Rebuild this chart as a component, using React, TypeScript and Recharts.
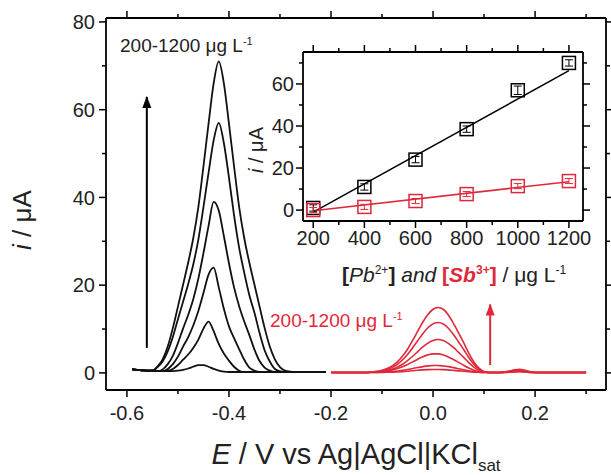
import { ComposedChart, ErrorBar, Line, Scatter, XAxis, YAxis } from "recharts";

const FONT = "'Liberation Sans', Arial, Helvetica, sans-serif";
const RED = "#e0283a";

// potential grids (V vs Ag|AgCl|KCl sat)
const pbPotential = [
  -0.59, -0.58, -0.57, -0.56, -0.55, -0.54, -0.53, -0.52, -0.51, -0.5, -0.49, -0.48, -0.47,
  -0.46, -0.45, -0.44, -0.43, -0.42, -0.41, -0.4, -0.39, -0.38, -0.37, -0.36, -0.35, -0.34,
  -0.33, -0.32, -0.31, -0.3, -0.29, -0.28, -0.27, -0.26, -0.25, -0.24, -0.23, -0.22, -0.21,
];
const sbPotential = [
  -0.2, -0.19, -0.18, -0.17, -0.16, -0.15, -0.14, -0.13, -0.12, -0.11, -0.1, -0.09, -0.08,
  -0.07, -0.06, -0.05, -0.04, -0.03, -0.02, -0.01, 0, 0.01, 0.02, 0.03, 0.04, 0.05, 0.06,
  0.07, 0.08, 0.09, 0.1, 0.11, 0.12, 0.13, 0.14, 0.15, 0.16, 0.17, 0.18, 0.19, 0.2, 0.21,
  0.22, 0.23, 0.24, 0.25, 0.26, 0.27, 0.28, 0.29, 0.3,
];

// Pb2+ stripping peaks, 200 -> 1200 ug/L
const pb200 = [0.8, 0.7, 0.6, 0.5, 0.5, 0.4, 0.4, 0.4, 0.4, 0.5, 0.7, 1.0, 1.4, 1.75, 1.75, 1.4, 0.9, 0.5, 0.3, 0.2, 0.2, 0.2, 0.2, 0.2, 0.2, 0.2, 0.2, 0.2, 0.2, 0.2, 0.2, 0.2, 0.2, 0.2, 0.2, 0.2, 0.2, 0.2, 0.2];
const pb400 = [0.8, 0.7, 0.6, 0.5, 0.5, 0.4, 0.4, 0.5, 0.9, 1.8, 3.0, 4.2, 5.7, 7.6, 10.1, 11.7, 9.5, 6.6, 4.4, 2.8, 1.4, 0.5, 0.2, 0.2, 0.2, 0.2, 0.2, 0.2, 0.2, 0.2, 0.2, 0.2, 0.2, 0.2, 0.2, 0.2, 0.2, 0.2, 0.2];
const pb600 = [0.8, 0.7, 0.6, 0.5, 0.5, 0.4, 0.4, 0.9, 2.0, 3.7, 6.0, 8.1, 10.8, 14.1, 18.2, 22.4, 24.0, 19.5, 14.6, 10.6, 7.9, 5.4, 3.0, 1.2, 0.5, 0.2, 0.2, 0.2, 0.2, 0.2, 0.2, 0.2, 0.2, 0.2, 0.2, 0.2, 0.2, 0.2, 0.2];
const pb800 = [0.8, 0.7, 0.6, 0.5, 0.5, 0.4, 0.8, 2.0, 3.9, 6.8, 10.1, 13.2, 16.8, 21.5, 27.3, 33.5, 39.0, 37.0, 31.2, 25.0, 19.5, 15.2, 11.7, 8.6, 5.3, 2.7, 1.2, 0.5, 0.2, 0.2, 0.2, 0.2, 0.2, 0.2, 0.2, 0.2, 0.2, 0.2, 0.2];
const pb1000 = [0.8, 0.7, 0.6, 0.5, 0.5, 1.3, 2.6, 4.9, 8.2, 12.2, 16.2, 20.2, 24.7, 30.4, 37.8, 45.6, 53.0, 57.0, 52.4, 44.5, 35.9, 28.5, 22.8, 17.7, 13.7, 9.1, 5.1, 2.6, 0.9, 0.4, 0.2, 0.2, 0.2, 0.2, 0.2, 0.2, 0.2, 0.2, 0.2];
const pb1200 = [0.8, 0.7, 0.6, 0.5, 0.5, 1.5, 3.1, 6.0, 10.2, 15.1, 20.1, 25.1, 30.7, 37.8, 47.1, 56.8, 66.0, 71.0, 66.0, 56.8, 47.1, 37.8, 30.7, 25.1, 20.1, 15.1, 10.2, 6.0, 3.1, 1.3, 0.5, 0.3, 0.2, 0.2, 0.2, 0.2, 0.2, 0.2, 0.2];

// Sb3+ stripping peaks, 200 -> 1200 ug/L
const sb200 = [0.1, 0.1, 0.1, 0.1, 0.1, 0.1, 0.1, 0.1, 0.1, 0.1, 0.12, 0.14, 0.17, 0.21, 0.27, 0.37, 0.49, 0.59, 0.68, 0.75, 0.78, 0.78, 0.75, 0.68, 0.58, 0.47, 0.36, 0.26, 0.18, 0.13, 0.1, 0.1, 0.1, 0.1, 0.1, 0.15, 0.22, 0.25, 0.2, 0.12, 0.1, 0.1, 0.1, 0.1, 0.1, 0.1, 0.1, 0.1, 0.1, 0.1, 0.1];
const sb400 = [0.1, 0.1, 0.1, 0.1, 0.1, 0.1, 0.1, 0.1, 0.1, 0.12, 0.17, 0.23, 0.31, 0.43, 0.59, 0.78, 1.0, 1.23, 1.43, 1.59, 1.68, 1.68, 1.58, 1.42, 1.2, 0.96, 0.71, 0.47, 0.28, 0.16, 0.1, 0.1, 0.1, 0.1, 0.12, 0.2, 0.3, 0.35, 0.25, 0.12, 0.1, 0.1, 0.1, 0.1, 0.1, 0.1, 0.1, 0.1, 0.1, 0.1, 0.1];
const sb600 = [0.1, 0.1, 0.1, 0.1, 0.1, 0.1, 0.1, 0.1, 0.15, 0.2, 0.3, 0.44, 0.67, 0.99, 1.41, 1.93, 2.52, 3.13, 3.69, 4.11, 4.34, 4.34, 4.09, 3.64, 3.05, 2.4, 1.73, 1.1, 0.59, 0.27, 0.13, 0.1, 0.1, 0.1, 0.15, 0.25, 0.4, 0.5, 0.35, 0.15, 0.1, 0.1, 0.1, 0.1, 0.1, 0.1, 0.1, 0.1, 0.1, 0.1, 0.1];
const sb800 = [0.1, 0.1, 0.1, 0.1, 0.1, 0.1, 0.1, 0.1, 0.15, 0.23, 0.34, 0.54, 0.86, 1.32, 1.97, 2.8, 3.79, 4.86, 5.91, 6.8, 7.39, 7.6, 7.38, 6.74, 5.8, 4.68, 3.55, 2.35, 1.34, 0.59, 0.21, 0.1, 0.1, 0.1, 0.15, 0.3, 0.5, 0.6, 0.45, 0.2, 0.1, 0.1, 0.1, 0.1, 0.1, 0.1, 0.1, 0.1, 0.1, 0.1, 0.1];
const sb1000 = [0.1, 0.1, 0.1, 0.1, 0.1, 0.1, 0.1, 0.1, 0.18, 0.3, 0.46, 0.77, 1.25, 1.96, 2.94, 4.2, 5.71, 7.34, 8.94, 10.28, 11.18, 11.5, 11.16, 10.19, 8.76, 7.05, 5.34, 3.52, 1.98, 0.84, 0.27, 0.1, 0.1, 0.1, 0.2, 0.35, 0.6, 0.7, 0.5, 0.25, 0.1, 0.1, 0.1, 0.1, 0.1, 0.1, 0.1, 0.1, 0.1, 0.1, 0.1];
const sb1200 = [0.1, 0.1, 0.1, 0.1, 0.1, 0.1, 0.1, 0.1, 0.2, 0.35, 0.57, 1.0, 1.6, 2.5, 3.8, 5.4, 7.4, 9.5, 11.6, 13.3, 14.5, 14.9, 14.5, 13.2, 11.3, 9.1, 6.9, 4.5, 2.5, 1.1, 0.3, 0.1, 0.1, 0.1, 0.2, 0.4, 0.7, 0.8, 0.6, 0.3, 0.1, 0.1, 0.1, 0.1, 0.1, 0.1, 0.1, 0.1, 0.1, 0.1, 0.1];

// arrows (potential, start current, end current)
const pbArrow = { x: -0.561, from: 5.7, to: 62.9 };
const sbArrow = { x: 0.112, from: 1.8, to: 15.6 };

// calibration inset
const concentrations = [200, 400, 600, 800, 1000, 1200];
const pbPeak = [1, 11, 24, 38.5, 57, 70];
const pbError = [1.5, 1.5, 1.5, 1.5, 2, 1.5];
const sbPeak = [0, 1.5, 4.3, 7.6, 11.4, 13.8];
const sbError = [1.2, 1.2, 1.2, 1.2, 1.2, 1.2];
const fitEnds = [200, 1200];
const pbFit = [-1, 66.3];
const sbFit = [-0.3, 13.5];

const mainXDomain = [-0.641, 0.339];
const mainYDomain = [-3.9, 80.9];
const insetXDomain = [160, 1255];
const insetYDomain = [-5.2, 75.2];
const mainXTicks = [-0.6, -0.5, -0.4, -0.3, -0.2, -0.1, 0, 0.1, 0.2, 0.3];
const mainYTicks = [0, 10, 20, 30, 40, 50, 60, 70, 80];
const insetXTicks = [200, 300, 400, 500, 600, 700, 800, 900, 1000, 1100, 1200];
const insetYTicks = [0, 10, 20, 30, 40, 50, 60, 70];

const pbCurves = [pb200, pb400, pb600, pb800, pb1000, pb1200];
const sbCurves = [sb200, sb400, sb600, sb800, sb1000, sb1200];

const toPoints = (xs: number[], ys: number[]) => xs.map((x, i) => ({ x, y: ys[i] }));

type Side = "bottom" | "top" | "left" | "right";

function axisTick(side: Side, major: (v: number) => boolean, fmt: ((v: number) => string) | null, gap: number, size: number) {
  return (props: any) => {
    const { x, y, payload, index } = props;
    const v = payload.value as number;
    const big = major(v);
    const len = big ? 7 : 4;
    const dx = side === "left" ? -len : side === "right" ? len : 0;
    const dy = side === "bottom" ? len : side === "top" ? -len : 0;
    let text = null;
    if (fmt && big && side === "bottom") {
      text = (
        <text x={x} y={y + gap} textAnchor="middle" fontSize={size} fontFamily={FONT} fill="#222">
          {fmt(v)}
        </text>
      );
    }
    if (fmt && big && side === "left") {
      text = (
        <text x={x - gap} y={y} dy="0.36em" textAnchor="end" fontSize={size} fontFamily={FONT} fill="#222">
          {fmt(v)}
        </text>
      );
    }
    return (
      <g key={`t${side}${index}`}>
        <line x1={x} y1={y} x2={x + dx} y2={y + dy} stroke="#000" strokeWidth={1.5} />
        {text}
      </g>
    );
  };
}

function arrowHead(color: string) {
  return (p: any) =>
    p.index === 1 ? (
      <path key={`h${p.index}`} d={`M${p.cx},${p.cy - 1} l-4.5,12 l9,0 z`} fill={color} />
    ) : (
      <g key={`h${p.index}`} />
    );
}

function squareMark(color: string) {
  return (p: any) => (
    <rect x={p.cx - 6.5} y={p.cy - 6.5} width={13} height={13} fill="none" stroke={color} strokeWidth={1.5} />
  );
}

const frame = { stroke: "#000", strokeWidth: 1.8 };
const xMajor = (v: number) => Math.round(v * 10) % 2 === 0;
const yMajor = (v: number) => v % 20 === 0;
const cMajor = (v: number) => v % 200 === 0;

// four framed axes: labelled bottom/left, mirrored tick-only top/right
function frameAxes(
  xDomain: number[],
  yDomain: number[],
  xTicks: number[],
  yTicks: number[],
  xIsMajor: (v: number) => boolean,
  xFmt: (v: number) => string,
  xGap: number,
  xHeight: number,
  yWidth: number,
  yGap: number,
) {
  const common = { type: "number" as const, allowDataOverflow: true, interval: 0, tickSize: 0, tickMargin: 0, tickLine: false, axisLine: frame };
  return [
    <XAxis key="xb" {...common} dataKey="x" domain={xDomain} ticks={xTicks} height={xHeight} tick={axisTick("bottom", xIsMajor, xFmt, xGap, 20)} />,
    <XAxis key="xt" {...common} xAxisId="top" orientation="top" dataKey="x" domain={xDomain} ticks={xTicks} height={1} tick={axisTick("top", xIsMajor, null, 0, 0)} />,
    <YAxis key="yl" {...common} dataKey="y" domain={yDomain} ticks={yTicks} width={yWidth} tick={axisTick("left", yMajor, (v) => String(v), yGap, 20)} />,
    <YAxis key="yr" {...common} yAxisId="right" orientation="right" dataKey="y" domain={yDomain} ticks={yTicks} width={1} tick={axisTick("right", yMajor, null, 0, 0)} />,
  ];
}

function Inset() {
  const pbPts = concentrations.map((x, i) => ({ x, y: pbPeak[i], err: pbError[i] }));
  const sbPts = concentrations.map((x, i) => ({ x, y: sbPeak[i], err: sbError[i] }));
  return (
    <ComposedChart width={345} height={249} margin={{ top: 9, right: 9, left: 0, bottom: 0 }}>
      {frameAxes(insetXDomain, insetYDomain, insetXTicks, insetYTicks, cMajor, (v) => String(v), 24, 70, 55, 9)}
      {/* invisible series that carries the mirrored top/right axes */}
      <Line xAxisId="top" yAxisId="right" data={toPoints(concentrations, pbPeak)} dataKey="y" stroke="none" dot={false} isAnimationActive={false} />
      <Line data={toPoints(fitEnds, pbFit)} dataKey="y" type="linear" stroke="#000" strokeWidth={1.5} dot={false} isAnimationActive={false} />
      <Line data={toPoints(fitEnds, sbFit)} dataKey="y" type="linear" stroke={RED} strokeWidth={1.5} dot={false} isAnimationActive={false} />
      <Scatter data={pbPts} dataKey="y" shape={squareMark("#000")} isAnimationActive={false}>
        <ErrorBar dataKey="err" direction="y" width={4} stroke="#000" strokeWidth={1} />
      </Scatter>
      <Scatter data={sbPts} dataKey="y" shape={squareMark(RED)} isAnimationActive={false}>
        <ErrorBar dataKey="err" direction="y" width={4} stroke={RED} strokeWidth={1} />
      </Scatter>
    </ComposedChart>
  );
}

const abs = (left: number, top: number): React.CSSProperties => ({
  position: "absolute",
  left,
  top,
  lineHeight: 1,
  whiteSpace: "nowrap",
  pointerEvents: "none",
});

export default function App() {
  // fixed to the viewport so the 611x475 figure never causes scrollbars
  return (
    <div style={{ position: "fixed", left: 0, top: 0, width: 611, height: 475, fontFamily: FONT, color: "#222", background: "#fff" }}>
      <ComposedChart width={611} height={475} margin={{ top: 17, right: 4, left: 0, bottom: 0 }}>
        {frameAxes(mainXDomain, mainYDomain, mainXTicks, mainYTicks, xMajor, (v) => v.toFixed(1), 30, 85, 106, 11)}
        {/* invisible series that carries the mirrored top/right axes */}
        <Line xAxisId="top" yAxisId="right" data={toPoints(pbPotential, pb1200)} dataKey="y" stroke="none" dot={false} isAnimationActive={false} />
        {pbCurves.map((ys, i) => (
          <Line
            key={`pb${i}`}
            data={toPoints(pbPotential, ys)}
            dataKey="y"
            type="monotone"
            stroke="#111"
            strokeWidth={1.8}
            dot={false}
            isAnimationActive={false}
          />
        ))}
        {sbCurves.map((ys, i) => (
          <Line
            key={`sb${i}`}
            data={toPoints(sbPotential, ys)}
            dataKey="y"
            type="monotone"
            stroke={RED}
            strokeWidth={1.6}
            dot={false}
            isAnimationActive={false}
          />
        ))}
        <Line
          data={[{ x: pbArrow.x, y: pbArrow.from }, { x: pbArrow.x, y: pbArrow.to }]}
          dataKey="y"
          type="linear"
          stroke="#000"
          strokeWidth={2}
          dot={arrowHead("#000")}
          isAnimationActive={false}
        />
        <Line
          data={[{ x: sbArrow.x, y: sbArrow.from }, { x: sbArrow.x, y: sbArrow.to }]}
          dataKey="y"
          type="linear"
          stroke={RED}
          strokeWidth={2}
          dot={arrowHead(RED)}
          isAnimationActive={false}
        />
      </ComposedChart>

      <div style={{ position: "absolute", left: 248, top: 42 }}>
        <Inset />
      </div>

      <div style={{ ...abs(120, 36), fontSize: 19 }}>
        200-1200 μg L<sup style={{ fontSize: 11 }}>-1</sup>
      </div>
      <div style={{ ...abs(270, 311), fontSize: 19, color: RED }}>
        200-1200 μg L<sup style={{ fontSize: 11 }}>-1</sup>
      </div>

      <div style={{ ...abs(106, 440), width: 500, textAlign: "center", fontSize: 29 }}>
        <i>E</i> / V vs Ag|AgCl|KCl<sub style={{ fontSize: 17 }}>sat</sub>
      </div>
      <div style={{ ...abs(22, 220), fontSize: 26, transform: "translate(-50%, -50%) rotate(-90deg)" }}>
        <i>i</i> / μA
      </div>

      <div style={{ ...abs(256, 150), fontSize: 20, transform: "translate(-50%, -50%) rotate(-90deg)" }}>
        <i>i</i> / μA
      </div>
      <div style={{ ...abs(342, 264), width: 220, textAlign: "center", fontSize: 21 }}>
        <b>[</b>
        <i>Pb</i>
        <sup style={{ fontSize: 12 }}>2+</sup>
        <b>]</b> <i>and</i>{" "}
        <b style={{ color: RED }}>
          [<i>Sb</i>
          <sup style={{ fontSize: 12 }}>3+</sup>]
        </b>{" "}
        / μg L<sup style={{ fontSize: 12 }}>-1</sup>
      </div>
    </div>
  );
}
